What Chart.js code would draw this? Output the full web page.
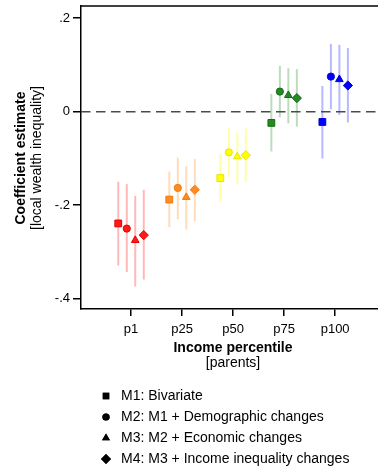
<!DOCTYPE html>
<html>
<head>
<meta charset="utf-8">
<script src="https://cdn.jsdelivr.net/npm/chart.js@4.4.1/dist/chart.umd.min.js"></script>
<style>
  html, body { margin: 0; padding: 0; background: #fff; }
</style>
</head>
<body>
<canvas id="coefChart" width="378" height="469"></canvas>
<script>
// categories and tick labels
const categories = ['p1', 'p25', 'p50', 'p75', 'p100'];
const yTickValues = [-0.4, -0.2, 0, 0.2];
const yTickLabels = ['-.4', '-.2', '0', '.2'];

// one colour per income group
const groupColors = ['#ff1a1a', '#ff8c1e', '#ffff00', '#228b22', '#0000ff'];
const edgeColors = ['#e60000', '#f07a10', '#e6e600', '#156b15', '#0000d0'];
const ciColors = ['rgba(255,0,0,0.28)', 'rgba(255,140,30,0.3)', 'rgba(255,255,0,0.35)',
                  'rgba(34,139,34,0.3)', 'rgba(0,0,255,0.28)'];

const modelNames = ['M1: Bivariate', 'M2: M1 + Demographic changes',
                    'M3: M2 + Economic changes', 'M4: M3 + Income inequality changes'];

// point estimates and 95% CI per model
const m1Est  = [-0.239, -0.188, -0.142, -0.024, -0.022];
const m1Low  = [-0.329, -0.247, -0.193, -0.085, -0.100];
const m1High = [-0.150, -0.128, -0.090,  0.038,  0.055];

const m2Est  = [-0.250, -0.163, -0.087,  0.043,  0.075];
const m2Low  = [-0.343, -0.230, -0.140, -0.012,  0.005];
const m2High = [-0.155, -0.098, -0.034,  0.098,  0.145];

const m3Est  = [-0.275, -0.183, -0.096,  0.035,  0.069];
const m3Low  = [-0.374, -0.252, -0.155, -0.025, -0.007];
const m3High = [-0.180, -0.117, -0.044,  0.093,  0.143];

const m4Est  = [-0.264, -0.167, -0.093,  0.029,  0.056];
const m4Low  = [-0.359, -0.234, -0.150, -0.032, -0.023];
const m4High = [-0.167, -0.101, -0.036,  0.091,  0.136];

const models = [
  { est: m1Est, low: m1Low, high: m1High, shape: 'rect',     radius: 4.8 },
  { est: m2Est, low: m2Low, high: m2High, shape: 'circle',   radius: 3.6 },
  { est: m3Est, low: m3Low, high: m3High, shape: 'triangle', radius: 4.4 },
  { est: m4Est, low: m4Low, high: m4High, shape: 'rectRot',  radius: 4.6 }
];

// dodge of each model inside a group, axis range
const dodge = [-0.25, -0.083, 0.083, 0.25];
const xMin = 0.02, xMax = 5.84;
const yMin = -0.422, yMax = 0.226;

const FONT = '"Liberation Sans", Arial, Helvetica, sans-serif';

const datasets = [];

models.forEach((m, k) => {
  // CI whiskers, one segment per group, broken by null points
  const ci = [];
  categories.forEach((c, i) => {
    const x = i + 1 + dodge[k];
    ci.push({ x: x, y: m.low[i] }, { x: x, y: m.high[i] }, { x: x, y: null });
  });
  datasets.push({
    type: 'line',
    data: ci,
    order: 3,
    borderWidth: 2,
    pointRadius: 0,
    spanGaps: false,
    segment: { borderColor: ctx => ciColors[Math.floor(ctx.p0DataIndex / 3)] },
    borderColor: ciColors[0]
  });

  datasets.push({
    type: 'scatter',
    label: modelNames[k],
    data: categories.map((c, i) => ({ x: i + 1 + dodge[k], y: m.est[i] })),
    order: 1,
    pointStyle: m.shape,
    pointRadius: m.radius,
    pointHoverRadius: m.radius,
    borderWidth: 1,
    backgroundColor: groupColors,
    borderColor: edgeColors
  });
});

// dashed reference line at zero
datasets.push({
  type: 'line',
  data: [{ x: xMin, y: 0 }, { x: xMax, y: 0 }],
  order: 2,
  borderColor: '#4a4a4a',
  borderWidth: 1.5,
  borderDash: [9.5, 5.5],
  pointRadius: 0
});

const decorPlugin = {
  id: 'decor',
  afterDraw(chart) {
    const ctx = chart.ctx;
    const area = chart.chartArea;
    ctx.save();

    // top frame line
    ctx.strokeStyle = '#000';
    ctx.lineWidth = 1.5;
    ctx.beginPath();
    ctx.moveTo(area.left - 0.75, area.top);
    ctx.lineTo(area.right, area.top);
    ctx.stroke();

    ctx.fillStyle = '#000';
    ctx.textAlign = 'center';
    ctx.textBaseline = 'middle';

    // y axis title
    ctx.save();
    ctx.translate(21.5, 158);
    ctx.rotate(-Math.PI / 2);
    ctx.font = 'bold 14px ' + FONT;
    ctx.fillText('Coefficient estimate', 0, 0);
    ctx.font = '14px ' + FONT;
    ctx.fillText('[local wealth inequality]', 0, 15.5);
    ctx.restore();

    // x axis title
    ctx.font = 'bold 14px ' + FONT;
    ctx.fillText('Income percentile', 233, 348);
    ctx.font = '14px ' + FONT;
    ctx.fillText('[parents]', 233, 363);

    // legend
    const shapes = models.map(m => m.shape);
    const legendRadius = [4.6, 3.6, 4.6, 5];
    ctx.textAlign = 'left';
    ctx.font = '14px ' + FONT;
    modelNames.forEach((name, k) => {
      const y = 396 + k * 21;
      Chart.helpers.drawPoint(ctx, {
        pointStyle: shapes[k], radius: legendRadius[k], rotation: 0, borderWidth: 0
      }, 106, y);
      ctx.fillStyle = '#000';
      ctx.fill();
      ctx.fillText(name, 121, y);
    });

    ctx.restore();
  }
};

new Chart(document.getElementById('coefChart'), {
  type: 'scatter',
  data: { datasets: datasets },
  options: {
    responsive: false,
    animation: false,
    layout: { autoPadding: false, padding: { top: 6, right: 0, bottom: 0, left: 0 } },
    plugins: { legend: { display: false }, tooltip: { enabled: false } },
    scales: {
      x: {
        type: 'linear',
        min: xMin,
        max: xMax,
        afterBuildTicks: s => { s.ticks = categories.map((c, i) => ({ value: i + 1 })); },
        afterFit: s => {
          s.height = 160;
          s.paddingLeft = 0; s.paddingRight = 0; s.paddingTop = 0; s.paddingBottom = 0;
        },
        ticks: {
          callback: v => categories[v - 1],
          autoSkip: false,
          maxRotation: 0,
          color: '#000',
          padding: 6,
          font: { family: FONT, size: 13 }
        },
        grid: { drawOnChartArea: false, drawTicks: true, tickLength: 7, color: '#000', lineWidth: 1.5 },
        border: { color: '#000', width: 1.5 }
      },
      y: {
        min: yMin,
        max: yMax,
        afterBuildTicks: s => { s.ticks = yTickValues.map(v => ({ value: v })); },
        afterFit: s => {
          s.width = 81;
          s.paddingLeft = 0; s.paddingRight = 0; s.paddingTop = 0; s.paddingBottom = 0;
        },
        ticks: {
          callback: v => yTickLabels[yTickValues.indexOf(v)],
          color: '#000',
          padding: 3,
          font: { family: FONT, size: 13 }
        },
        grid: { drawOnChartArea: false, drawTicks: true, tickLength: 8, color: '#000', lineWidth: 1.5 },
        border: { color: '#000', width: 1.5 }
      }
    }
  },
  plugins: [decorPlugin]
});
</script>
</body>
</html>
